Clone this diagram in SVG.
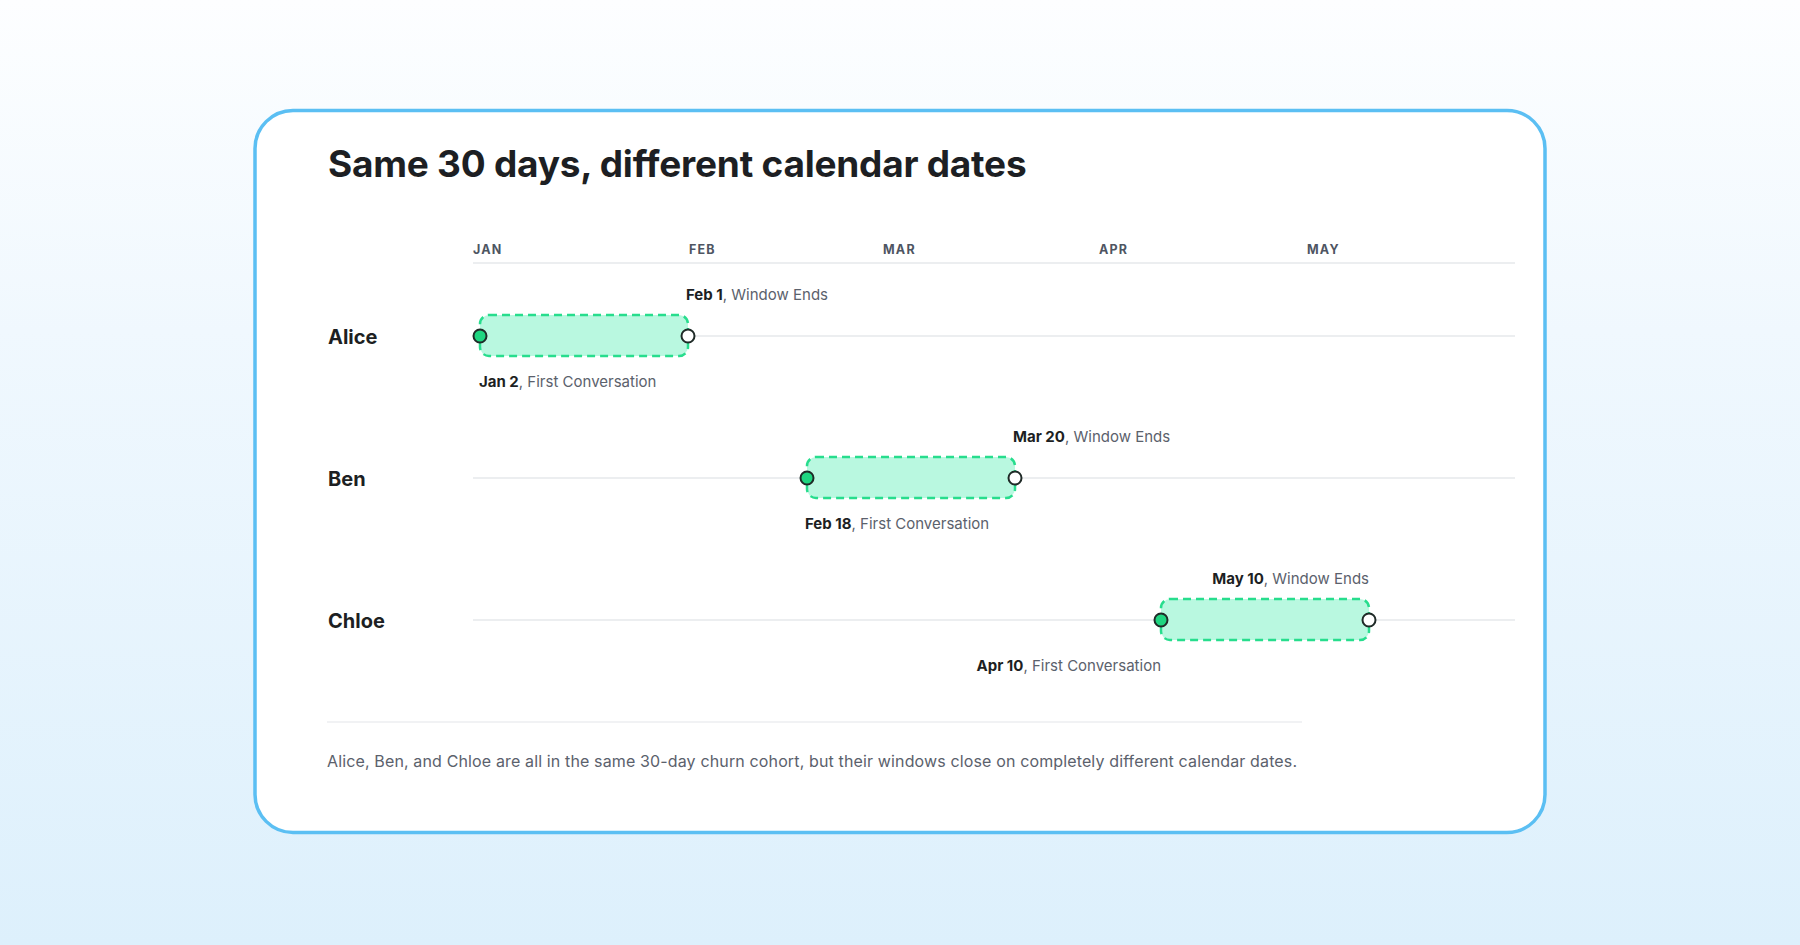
<svg xmlns="http://www.w3.org/2000/svg" width="1800" height="945" viewBox="0 0 1800 945">
  <defs>
    <linearGradient id="bg" x1="0" y1="0" x2="0" y2="1">
      <stop offset="0" stop-color="#fdfeff"/>
      <stop offset="0.35" stop-color="#f0f8fe"/>
      <stop offset="1" stop-color="#ddf0fc"/>
    </linearGradient>
    <style>
      .title{font-family:Inter,"Liberation Sans",sans-serif;font-weight:700;font-size:37px;letter-spacing:-0.6px;fill:#1d1f23}
      .month{font-family:Inter,"Liberation Sans",sans-serif;font-weight:700;font-size:12.5px;letter-spacing:1.2px;fill:#4e5562}
      .name{font-family:Inter,"Liberation Sans",sans-serif;font-weight:700;font-size:20px;fill:#1d1f23}
      .lbl{font-family:Inter,"Liberation Sans",sans-serif;font-size:15px;fill:#5b616c}
      .lbl .b{font-weight:700;fill:#1d1f23}
      .foot{font-family:Inter,"Liberation Sans",sans-serif;font-size:16px;fill:#5b616c}
      .track{stroke:#e6e8eb;stroke-width:1.5;fill:none}
      .win{fill:#b9f8e0;stroke:#27dd8d;stroke-width:2.5;stroke-dasharray:8 5}
      .start{fill:#1fd580;stroke:#1f2a27;stroke-width:2}
      .end{fill:#ffffff;stroke:#1f2a27;stroke-width:2}
    </style>
  </defs>
  <rect x="0" y="0" width="1800" height="945" fill="url(#bg)"/>
  <rect id="card" x="255" y="110.5" width="1290" height="722" rx="38" fill="#ffffff" stroke="#5bbff3" stroke-width="3.5"/>
  <text class="title" x="328" y="177" textLength="698">Same 30 days, different calendar dates</text>

  <g id="axis">
    <line class="track" x1="473" y1="263" x2="1515" y2="263"/>
    <text class="month" x="473" y="254">JAN</text>
    <text class="month" x="689" y="254">FEB</text>
    <text class="month" x="883" y="254">MAR</text>
    <text class="month" x="1099" y="254">APR</text>
    <text class="month" x="1307" y="254">MAY</text>
  </g>

  <g id="connectors">
    <line class="track" x1="473" y1="336" x2="1515" y2="336"/>
    <line class="track" x1="473" y1="478" x2="1515" y2="478"/>
    <line class="track" x1="473" y1="620" x2="1515" y2="620"/>
  </g>

  <g id="alice">
    <text class="name" x="328" y="344">Alice</text>
    <rect class="win" x="480" y="315" width="208" height="41" rx="9"/>
    <circle class="start" cx="480" cy="336" r="6.5"/>
    <circle class="end" cx="688" cy="336" r="6.5"/>
    <text class="lbl" x="686" y="300"><tspan class="b">Feb 1</tspan>, Window Ends</text>
    <text class="lbl" x="479" y="387"><tspan class="b">Jan 2</tspan>, First Conversation</text>
  </g>

  <g id="ben">
    <text class="name" x="328" y="486">Ben</text>
    <rect class="win" x="807" y="457" width="208" height="41" rx="9"/>
    <circle class="start" cx="807" cy="478" r="6.5"/>
    <circle class="end" cx="1015" cy="478" r="6.5"/>
    <text class="lbl" x="1013" y="442"><tspan class="b">Mar 20</tspan>, Window Ends</text>
    <text class="lbl" x="805" y="529"><tspan class="b">Feb 18</tspan>, First Conversation</text>
  </g>

  <g id="chloe">
    <text class="name" x="328" y="628">Chloe</text>
    <rect class="win" x="1161" y="599" width="208" height="41" rx="9"/>
    <circle class="start" cx="1161" cy="620" r="6.5"/>
    <circle class="end" cx="1369" cy="620" r="6.5"/>
    <text class="lbl" x="1369" y="584" text-anchor="end"><tspan class="b">May 10</tspan>, Window Ends</text>
    <text class="lbl" x="1161" y="671" text-anchor="end"><tspan class="b">Apr 10</tspan>, First Conversation</text>
  </g>

  <g id="footer">
    <line x1="327" y1="722" x2="1302" y2="722" stroke="#eceef1" stroke-width="1.5"/>
    <text class="foot" x="327" y="767" textLength="970">Alice, Ben, and Chloe are all in the same 30-day churn cohort, but their windows close on completely different calendar dates.</text>
  </g>
</svg>
